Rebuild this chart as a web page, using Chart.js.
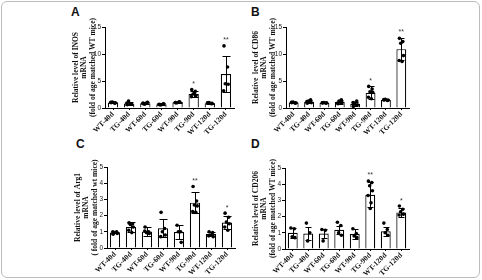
<!DOCTYPE html>
<html>
<head>
<meta charset="utf-8">
<script src="https://cdn.jsdelivr.net/npm/chart.js@4"></script>
<style>
  body { margin: 0; width: 482px; height: 280px; background: #fff; position: relative; overflow: hidden; }
  .frame { position: absolute; left: 1px; top: 1px; width: 477px; height: 275px; border: 1px solid #bcbcbc; border-radius: 6px; }
  canvas { position: absolute; }
  .tag { position: absolute; font: bold 12px "Liberation Sans", Arial, sans-serif; line-height: 12px; color: #111; }
</style>
</head>
<body>
<div class="frame"></div>
<div class="tag" style="left:71px;top:6px">A</div>
<div class="tag" style="left:251px;top:6px">B</div>
<div class="tag" style="left:76px;top:138px">C</div>
<div class="tag" style="left:251px;top:138px">D</div>
<canvas id="chartA" width="185" height="122" style="left:55px;top:18px"></canvas>
<canvas id="chartB" width="180" height="122" style="left:235px;top:18px"></canvas>
<canvas id="chartC" width="184" height="122" style="left:57px;top:158px"></canvas>
<canvas id="chartD" width="180" height="122" style="left:235px;top:158px"></canvas>
<script>
// =================== data ===================

const groups = ['WT-40d', 'TG-40d', 'WT-60d', 'TG-60d', 'WT-90d', 'TG-90d', 'WT-120d', 'TG-120d'];

// INOS (panel A)
const inosMean = [1.0, 0.85, 0.9, 0.7, 1.05, 2.6, 0.9, 6.3];
const inosSd = [0.1, 0.3, 0.2, 0.15, 0.1, 0.5, 0.1, 3.3];
const inosPoints = [
  [1.0, 0.9, 1.1, 0.95, 1.05],
  [0.6, 0.8, 1.3, 0.7, 0.9],
  [0.8, 1.0, 0.7, 1.05, 0.9],
  [0.6, 0.75, 0.55, 0.8, 0.7],
  [1.0, 1.15, 0.95, 1.1, 1.0],
  [3.4, 3.1, 2.6, 2.3, 2.1, 2.8],
  [0.9, 0.8, 1.0, 0.85, 0.95],
  [11.5, 7.6, 4.5, 4.4, 3.2]
];
const inosStars = ['', '', '', '', '', '*', '', '**'];

// CD86 (panel B)
const cd86Mean = [1.0, 1.15, 0.95, 1.1, 0.8, 2.8, 1.5, 10.9];
const cd86Sd = [0.1, 0.25, 0.05, 0.3, 0.35, 1.2, 0.1, 2.1];
const cd86Points = [
  [1.0, 0.9, 1.1, 0.95, 1.05],
  [0.9, 1.5, 1.3, 1.0, 1.2],
  [0.95, 0.9, 1.0, 0.95, 0.95],
  [0.8, 1.5, 1.3, 1.0, 0.9],
  [0.3, 1.3, 0.9, 0.6, 1.0],
  [4.0, 3.5, 3.0, 2.9, 2.0, 1.7],
  [1.5, 1.4, 1.6, 1.45, 1.55],
  [12.9, 12.3, 12.0, 9.7, 8.8, 8.6]
];
const cd86Stars = ['', '', '', '', '', '*', '', '**'];

// Arg1 (panel C)
const arg1Mean = [0.96, 1.29, 1.02, 1.22, 0.98, 2.8, 0.86, 1.57];
const arg1Sd = [0.05, 0.29, 0.25, 0.57, 0.43, 0.64, 0.15, 0.41];
const arg1Points = [
  [0.85, 1.0, 0.95, 0.9, 1.0],
  [1.55, 1.5, 1.45, 1.3, 1.1, 0.95],
  [1.3, 1.0, 0.95, 0.9, 1.05],
  [2.2, 1.2, 1.0, 0.8, 0.7],
  [1.4, 1.0, 1.0, 0.35],
  [3.8, 2.9, 2.65, 2.6, 2.25, 2.2],
  [1.0, 0.95, 0.8, 0.7, 0.75],
  [2.15, 1.9, 1.6, 1.5, 1.3, 1.1]
];
const arg1Stars = ['', '', '', '', '', '**', '', '*'];

// CD206 (panel D)
const cd206Mean = [1.0, 0.95, 0.95, 1.19, 0.93, 3.35, 1.09, 2.26];
const cd206Sd = [0.32, 0.42, 0.28, 0.24, 0.32, 0.77, 0.27, 0.29];
const cd206Points = [
  [1.3, 1.25, 0.75, 0.7],
  [1.6, 1.0, 0.5],
  [1.2, 1.15, 0.5],
  [1.65, 1.45, 1.0, 0.85],
  [1.25, 0.95, 0.8, 0.7],
  [4.2, 4.1, 3.9, 3.6, 3.3, 2.85, 2.5],
  [1.6, 1.2, 1.0, 0.85],
  [2.65, 2.45, 2.3, 2.15, 2.1]
];
const cd206Stars = ['', '', '', '', '', '**', '', '*'];

// horizontal spread of the dots inside a bar (fraction of a category)
const jitter = [-0.12, 0.1, -0.04, 0.14, -0.14, 0.05, 0.0];

Chart.defaults.font.family = '"Liberation Sans", Arial, sans-serif';

// dots, error bars and significance marks, placed with the chart's own scales
const errorBarPlugin = {
  id: 'errorBars',
  afterDatasetsDraw(chart, args, opts) {
    const ctx = chart.ctx;
    const xScale = chart.scales.x;
    const yScale = chart.scales.y;
    const step = xScale.getPixelForValue(1) - xScale.getPixelForValue(0);
    const meta = chart.getDatasetMeta(0);
    ctx.save();

    // individual animals
    ctx.fillStyle = '#000';
    opts.points.forEach((arr, i) => {
      arr.forEach((v, j) => {
        const px = xScale.getPixelForValue(i) + jitter[j % jitter.length] * step;
        const py = yScale.getPixelForValue(v);
        ctx.beginPath();
        ctx.arc(px, py, 1.8, 0, Math.PI * 2);
        ctx.fill();
      });
    });

    ctx.strokeStyle = '#000';
    ctx.lineWidth = 1;
    meta.data.forEach((bar, i) => {
      const m = opts.mean[i];
      const s = opts.sd[i];
      const x = Math.round(bar.x) + 0.5;
      const yTop = Math.round(yScale.getPixelForValue(m + s)) + 0.5;
      const yBot = Math.round(yScale.getPixelForValue(Math.max(m - s, 0))) + 0.5;
      const cap = Math.round(bar.width * 0.35);
      ctx.beginPath();
      ctx.moveTo(x, yTop);
      ctx.lineTo(x, yBot);
      ctx.moveTo(x - cap, yTop);
      ctx.lineTo(x + cap, yTop);
      ctx.moveTo(x - cap, yBot);
      ctx.lineTo(x + cap, yBot);
      ctx.stroke();
      if (opts.stars[i]) {
        const top = Math.max(m + s, ...opts.points[i]);
        ctx.fillStyle = '#333';
        ctx.font = '7px "Liberation Sans", Arial, sans-serif';
        ctx.textAlign = 'center';
        ctx.textBaseline = 'bottom';
        ctx.fillText(opts.stars[i], bar.x, yScale.getPixelForValue(top) - 2);
      }
    });
    ctx.restore();
  }
};

function makePanel(canvasId, mean, sd, points, stars, yMax, yStep, titleLines, yWidth, xHeight, padTop) {
  return new Chart(document.getElementById(canvasId), {
    type: 'bar',
    data: {
      labels: groups,
      datasets: [{
        data: mean,
        backgroundColor: '#fff',
        borderColor: '#000',
        borderWidth: 1.2,
        barPercentage: 0.64,
        categoryPercentage: 1
      }]
    },
    options: {
      responsive: false,
      animation: false,
      devicePixelRatio: 1,
      layout: { padding: { top: padTop, right: 6 } },
      plugins: {
        legend: { display: false },
        tooltip: { enabled: false },
        errorBars: { mean: mean, sd: sd, points: points, stars: stars }
      },
      scales: {
        x: {
          grid: { offset: false, drawOnChartArea: false, tickLength: 2, color: '#000' },
          border: { color: '#000', width: 1 },
          ticks: {
            autoSkip: false,
            minRotation: 45,
            maxRotation: 45,
            padding: 0,
            color: '#111',
            font: { family: '"Liberation Serif", "Times New Roman", serif', weight: 'bold', size: 7.5 }
          },
          afterFit(axis) { axis.height = xHeight; }
        },
        y: {
          min: 0,
          max: yMax,
          ticks: { stepSize: yStep, padding: 1, color: '#222', font: { size: 6.5 } },
          grid: { drawOnChartArea: false, tickLength: 3, color: '#000' },
          border: { color: '#000', width: 1 },
          title: {
            display: true,
            text: titleLines,
            color: '#111',
            padding: { top: 17, bottom: 0 },
            font: { family: '"Liberation Serif", "Times New Roman", serif', weight: 'bold', size: 7.5, lineHeight: 1.1 }
          },
          afterFit(axis) { axis.width = yWidth; }
        }
      }
    },
    plugins: [errorBarPlugin]
  });
}

makePanel('chartA', inosMean, inosSd, inosPoints, inosStars, 15, 5,
  ['Relative level of INOS', 'mRNA', '(fold of age matched WT mice)'], 50, 32, 9);
makePanel('chartB', cd86Mean, cd86Sd, cd86Points, cd86Stars, 15, 5,
  ['Relative  level of CD86', 'mRNA', '(fold of age matched WT mice)'], 51, 32, 9);
makePanel('chartC', arg1Mean, arg1Sd, arg1Points, arg1Stars, 5, 1,
  ['Relative level of Arg1', 'mRNA', '( fold of age matched wt mice)'], 50, 32, 9);
makePanel('chartD', cd206Mean, cd206Sd, cd206Points, cd206Stars, 5, 1,
  ['Relative level of CD206', 'mRNA', '(fold of age matched WT mice)'], 50, 31, 10);
</script>
</body>
</html>
